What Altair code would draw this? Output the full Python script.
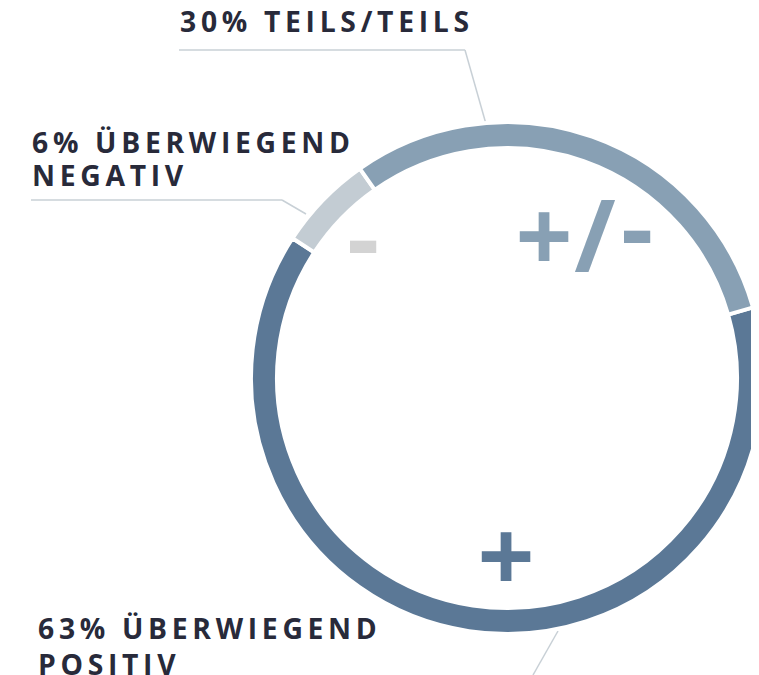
import math
import altair as alt
import pandas as pd

# ---- data ----
categories = ["Überwiegend positiv", "Überwiegend negativ", "Teils/teils"]
values = [63, 6, 30]
ring_colors = ["#5b7896", "#c3ccd3", "#88a0b4"]
label_texts = [["63% ÜBERWIEGEND", "POSITIV"], ["6% ÜBERWIEGEND", "NEGATIV"], ["30% TEILS/TEILS"]]
symbols = ["+", "-", "+", "/", "-"]

TEXT_COLOR = "#282a3a"
LINE_COLOR = "#c8d0d6"
MINUS_GREY = "#d3d3d3"
FONT = "Open Sans"
SP = "\u2009"


def spaced(s):
    return SP.join(list(s))


df = pd.DataFrame({"cat": categories, "value": values, "order": list(range(len(values)))})

CX, CY = 499, 370
start = math.radians(74)

ring = alt.Chart(df).mark_arc(radius=256, radius2=230, stroke="white", strokeWidth=4).encode(
    theta=alt.Theta("value:Q", stack=True, scale=alt.Scale(range=[start, start + 2 * math.pi])),
    color=alt.Color("cat:N", scale=alt.Scale(domain=categories, range=ring_colors), legend=None),
    order=alt.Order("order:Q"),
    x=alt.value(CX),
    y=alt.value(CY),
)


def text_layer(lines, x, y, size=28.3, color=TEXT_COLOR, align="left", line_height=34):
    d = pd.DataFrame({"t": ["\n".join(spaced(l) for l in lines)]})
    return alt.Chart(d).mark_text(
        font=FONT, fontSize=size, fontWeight="bold", color=color, align=align,
        baseline="alphabetic", lineBreak="\n", lineHeight=line_height,
    ).encode(text="t:N", x=alt.value(x), y=alt.value(y))


def sym_layer(t, x, y, color, size=100):
    d = pd.DataFrame({"t": [t]})
    return alt.Chart(d).mark_text(
        font=FONT, fontSize=size, fontWeight="bold", color=color, align="center",
        baseline="alphabetic",
    ).encode(text="t:N", x=alt.value(x), y=alt.value(y))


def seg(x1, y1, x2, y2):
    d = pd.DataFrame({"k": [0]})
    return alt.Chart(d).mark_rule(color=LINE_COLOR, strokeWidth=1.5).encode(
        x=alt.value(x1), y=alt.value(y1), x2=alt.value(x2), y2=alt.value(y2)
    )


layers = [
    seg(171, 42, 457, 42), seg(457, 42, 478, 116),
    seg(23, 192, 274, 192), seg(274, 192, 298, 206),
    seg(550, 623, 525, 667),
    ring,
    text_layer(label_texts[2], 172, 24),
    text_layer(label_texts[1], 24, 145, line_height=33),
    text_layer(label_texts[0], 30, 631, line_height=36),
    # "+/-" for teils/teils
    sym_layer(symbols[2], 536, 264, ring_colors[2]),
    sym_layer(symbols[3], 587, 264, ring_colors[2]),
    sym_layer(symbols[4], 629, 256, ring_colors[2]),
    # "-" for negative
    sym_layer(symbols[1], 355, 266, MINUS_GREY),
    # "+" for positive
    sym_layer(symbols[0], 498, 584, ring_colors[0]),
]

chart = alt.layer(*layers).properties(
    width=743, height=667, padding=0, autosize=alt.AutoSizeParams(type="none")
).configure_view(stroke=None)

chart.save("out.html", embed_options={"renderer": "svg", "actions": False})
